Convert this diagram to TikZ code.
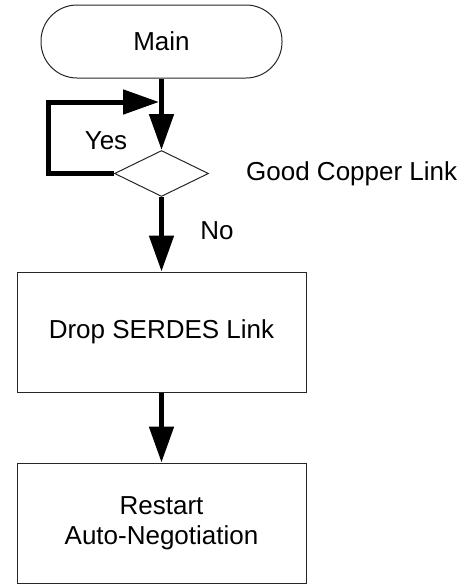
\documentclass[tikz,border=0pt]{standalone}
\usepackage{fontspec}
\setmainfont{Liberation Sans}
\usetikzlibrary{shapes.geometric,arrows.meta}
\begin{document}
\begin{tikzpicture}[x=1pt,y=-1pt,
  every node/.style={font=\fontsize{26}{32}\selectfont},
  outline/.style={draw=black!85, line width=1pt, inner sep=0pt},
  flow/.style={line width=5pt, -{Triangle[length=36pt,width=24pt]}},
  label/.style={inner sep=0pt}]
\useasboundingbox (0,0) rectangle (471,584);
\node[outline, rounded corners=36pt, minimum width=241pt, minimum height=73pt] (main) at (161.5,41.5) {Main};
\node[outline, diamond, aspect=2, minimum width=94pt, minimum height=46pt] (dec) at (161.5,173.5) {};
\node[outline, minimum width=289pt, minimum height=120pt] (box1) at (161.5,332) {Drop SERDES Link};
\node[outline, minimum width=289pt, minimum height=120pt, align=center] (box2) at (161.5,523) {Restart\\[-2pt]Auto-Negotiation};
\node[label] (yes) at (106,141) {Yes};
\node[label, anchor=west] (good) at (246,174) {Good Copper Link};
\node[label] (no) at (217,231) {No};
\coordinate (join) at (159,102);
\draw[flow] (main.south) -- (dec.north);
\draw[flow, miter limit=10] (dec.west) -- ++(-66,0) |- (join);
\draw[flow] (dec.south) -- (box1.north);
\draw[flow] (box1.south) -- (box2.north);
\end{tikzpicture}
\end{document}
